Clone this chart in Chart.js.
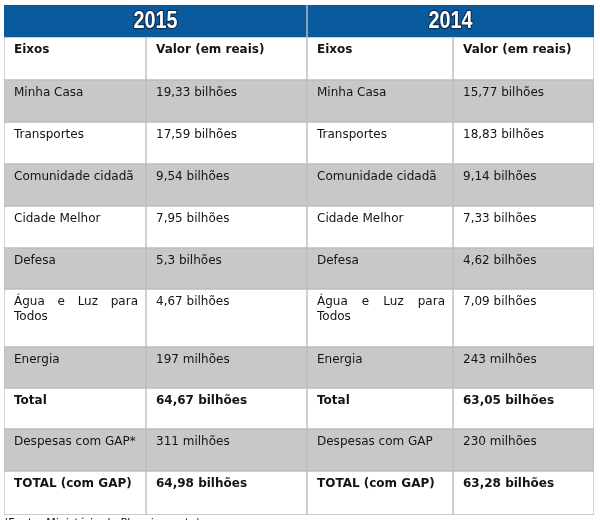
<!DOCTYPE html>
<html>
<head>
<meta charset="utf-8">
<script src="https://cdn.jsdelivr.net/npm/chart.js@4"></script>
<style>
  body { margin: 0; background: #fff; }
  #wrap { width: 600px; height: 520px; overflow: hidden; }
</style>
</head>
<body>
<div id="wrap"><canvas id="tabela" width="600" height="520"></canvas></div>
<script>
// dados da tabela
const anos = ['2015', '2014'];
const cabecalho = ['Eixos', 'Valor (em reais)'];
const eixos2015 = ['Minha Casa', 'Transportes', 'Comunidade cidadã', 'Cidade Melhor', 'Defesa',
  'Água e Luz para Todos', 'Energia', 'Total', 'Despesas com GAP*', 'TOTAL (com GAP)'];
const valores2015 = ['19,33 bilhões', '17,59 bilhões', '9,54 bilhões', '7,95 bilhões', '5,3 bilhões',
  '4,67 bilhões', '197 milhões', '64,67 bilhões', '311 milhões', '64,98 bilhões'];
const eixos2014 = ['Minha Casa', 'Transportes', 'Comunidade cidadã', 'Cidade Melhor', 'Defesa',
  'Água e Luz para Todos', 'Energia', 'Total', 'Despesas com GAP', 'TOTAL (com GAP)'];
const valores2014 = ['15,77 bilhões', '18,83 bilhões', '9,14 bilhões', '7,33 bilhões', '4,62 bilhões',
  '7,09 bilhões', '243 milhões', '63,05 bilhões', '230 milhões', '63,28 bilhões'];
const linhasNegrito = ['Total', 'TOTAL (com GAP)'];
const fonte = '(Fonte: Ministério do Planejamento)';

// layout (px)
const colWidths = [142, 161, 146, 141];
const rowHeights = [32, 43, 42, 42, 42, 42, 41, 58, 41, 41, 42, 44];
const AZUL = '#0a5a9e';
const CINZA = '#c8c8c8';
const LINHA = '#bdbdbd';

var colEdges = [0];
colWidths.forEach(w => colEdges.push(colEdges[colEdges.length - 1] + w));
var rowEdges = [0];
rowHeights.forEach(h => rowEdges.push(rowEdges[rowEdges.length - 1] + h));

// colunas do corpo: cabecalho + linhas
var colunas = [
  [cabecalho[0]].concat(eixos2015),
  [cabecalho[1]].concat(valores2015),
  [cabecalho[0]].concat(eixos2014),
  [cabecalho[1]].concat(valores2014)
];

function corLinha(i) {
  // i = indice da linha do corpo (0 = Eixos)
  return i % 2 == 0 ? '#ffffff' : CINZA;
}

var datasets = [];
// cabecalho azul, 2015 ocupa col 0-1, 2014 col 2-3
for (var a = 0; a < anos.length; a++) {
  var x0 = colEdges[a * 2], x1 = colEdges[a * 2 + 2];
  datasets.push({
    label: anos[a],
    data: [{ x: (x0 + x1) / 2, y: [rowEdges[0], rowEdges[1]] }],
    barThickness: x1 - x0,
    backgroundColor: AZUL,
    borderColor: '#b9c6d3',
    borderWidth: a == 0 ? { right: 1 } : { left: 1 },
    borderSkipped: false,
    grouped: false
  });
}
for (var c = 0; c < colunas.length; c++) {
  var cx = (colEdges[c] + colEdges[c + 1]) / 2;
  datasets.push({
    label: 'col' + c,
    data: colunas[c].map((t, i) => ({ x: cx, y: [rowEdges[i + 1], rowEdges[i + 2]] })),
    barThickness: colWidths[c],
    backgroundColor: ctx => corLinha(ctx.dataIndex),
    borderColor: LINHA,
    borderWidth: 1,
    borderSkipped: false,
    grouped: false
  });
}

// texto justificado em varias linhas
function quebraTexto(ctx, texto, largura) {
  var palavras = texto.split(' ');
  var linhas = [], atual = [];
  palavras.forEach(p => {
    var teste = atual.concat([p]).join(' ');
    if (ctx.measureText(teste).width > largura && atual.length > 0) {
      linhas.push(atual);
      atual = [p];
    } else {
      atual.push(p);
    }
  });
  linhas.push(atual);
  return linhas;
}

const textoTabela = {
  id: 'textoTabela',
  afterDatasetsDraw(chart) {
    const ctx = chart.ctx;
    const xs = chart.scales.x, ys = chart.scales.y;
    ctx.save();

    // anos no cabecalho
    ctx.textAlign = 'center';
    ctx.textBaseline = 'middle';
    for (var a = 0; a < anos.length; a++) {
      var px = (xs.getPixelForValue(colEdges[a * 2]) + xs.getPixelForValue(colEdges[a * 2 + 2])) / 2;
      var py = (ys.getPixelForValue(rowEdges[0]) + ys.getPixelForValue(rowEdges[1])) / 2 + 1;
      ctx.save();
      ctx.translate(px, py);
      ctx.scale(0.86, 1);
      ctx.font = 'bold 23px "Liberation Sans", Arial, sans-serif';
      ctx.lineWidth = 2.5;
      ctx.strokeStyle = '#0b2f55';
      ctx.lineJoin = 'round';
      ctx.strokeText(anos[a], 0, 0);
      ctx.fillStyle = '#ffffff';
      ctx.fillText(anos[a], 0, 0);
      ctx.restore();
    }

    // corpo
    ctx.textAlign = 'left';
    ctx.fillStyle = '#141414';
    for (var c = 0; c < colunas.length; c++) {
      var left = xs.getPixelForValue(colEdges[c]) + 10;
      var right = xs.getPixelForValue(colEdges[c + 1]) - 8;
      var rotuloCol = c < 2 ? colunas[0] : colunas[2];
      colunas[c].forEach((t, i) => {
        var negrito = i == 0 || linhasNegrito.indexOf(rotuloCol[i]) >= 0;
        ctx.font = (negrito ? 'bold ' : '') + '12px "DejaVu Sans", Verdana, sans-serif';
        var top = ys.getPixelForValue(rowEdges[i + 1]);
        var linhas = quebraTexto(ctx, t, right - left);
        linhas.forEach((ln, k) => {
          var yy = top + 13 + k * 15;
          if (k < linhas.length - 1 && ln.length > 1) {
            // justificado
            var soma = ln.reduce((s, w) => s + ctx.measureText(w).width, 0);
            var gap = (right - left - soma) / (ln.length - 1);
            var xx = left;
            ln.forEach(w => {
              ctx.fillText(w, xx, yy);
              xx += ctx.measureText(w).width + gap;
            });
          } else {
            ctx.fillText(ln.join(' '), left, yy);
          }
        });
      });
    }

    // nota de rodape (cortada)
    ctx.font = '11px "DejaVu Sans", Verdana, sans-serif';
    ctx.textBaseline = 'top';
    ctx.fillText(fonte, xs.getPixelForValue(0), ys.getPixelForValue(rowEdges[rowEdges.length - 1]) + 3);
    ctx.restore();
  }
};

new Chart(document.getElementById('tabela'), {
  type: 'bar',
  data: { datasets: datasets },
  options: {
    responsive: false,
    animation: false,
    events: [],
    layout: { padding: { left: 4, right: 6, top: 5, bottom: 5 } },
    plugins: { legend: { display: false }, tooltip: { enabled: false } },
    scales: {
      x: { type: 'linear', min: 0, max: colEdges[colEdges.length - 1], offset: false, display: false },
      y: { type: 'linear', min: 0, max: rowEdges[rowEdges.length - 1], reverse: true, display: false }
    }
  },
  plugins: [textoTabela]
});
</script>
</body>
</html>
